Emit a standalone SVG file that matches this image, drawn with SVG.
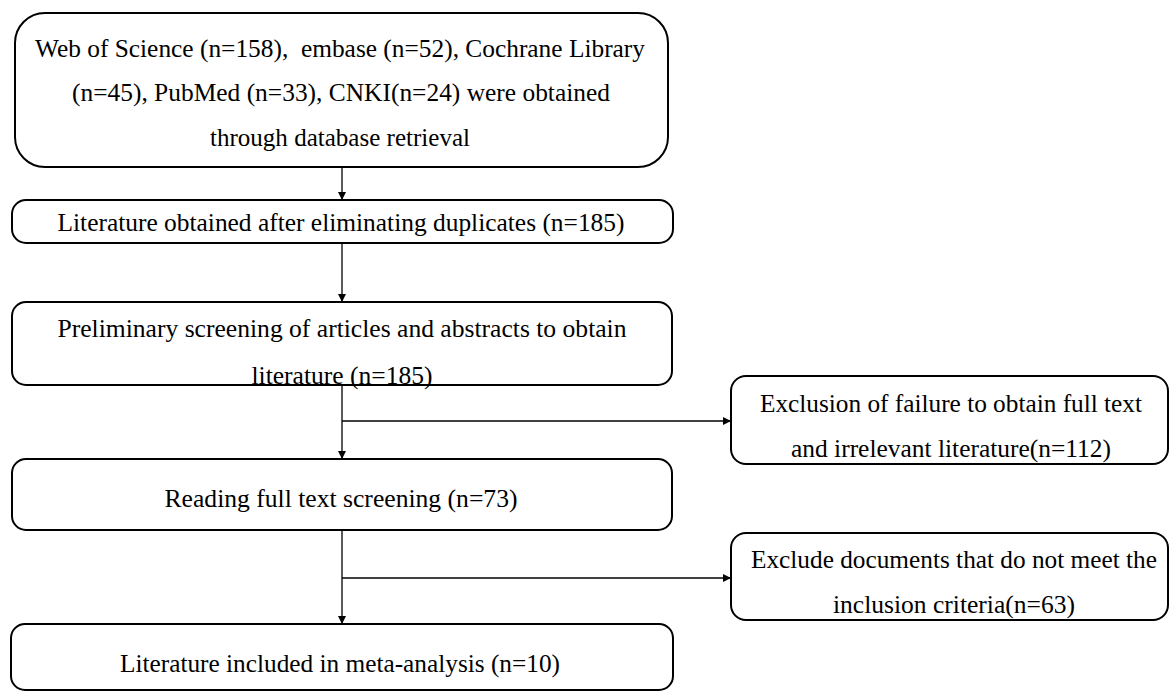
<svg xmlns="http://www.w3.org/2000/svg" width="1169" height="691" viewBox="0 0 1169 691">
<style>
.box{fill:#ffffff;stroke:#000000;stroke-width:2}
.t{font-family:"Liberation Serif","Times New Roman",serif;font-size:26px;fill:#000000;text-anchor:middle}
.ln{stroke:#000000;stroke-width:1.3;fill:none}
</style>
<defs>
<marker id="ah" viewBox="0 0 10 10" refX="10" refY="5" markerWidth="8" markerHeight="8" markerUnits="userSpaceOnUse" orient="auto">
<path d="M0,0 L10,5 L0,10 Z" fill="#000000"/>
</marker>
</defs>
<rect width="1169" height="691" fill="#ffffff"/>
<g id="connectors">
<line class="ln" x1="342" y1="167" x2="342" y2="200" marker-end="url(#ah)"/>
<line class="ln" x1="342" y1="243" x2="342" y2="302" marker-end="url(#ah)"/>
<line class="ln" x1="342" y1="385" x2="342" y2="459" marker-end="url(#ah)"/>
<line class="ln" x1="342" y1="421" x2="731" y2="421" marker-end="url(#ah)"/>
<line class="ln" x1="342" y1="530" x2="342" y2="624" marker-end="url(#ah)"/>
<line class="ln" x1="342" y1="578" x2="731" y2="578" marker-end="url(#ah)"/>
</g>
<g id="n1">
<rect class="box" x="15" y="13" width="653" height="154" rx="30"/>
<text class="t" x="340" y="57" textLength="610" lengthAdjust="spacingAndGlyphs">Web of Science (n=158),&#160; embase (n=52), Cochrane Library</text>
<text class="t" x="341" y="101" textLength="538" lengthAdjust="spacingAndGlyphs">(n=45), PubMed (n=33), CNKI(n=24) were obtained</text>
<text class="t" x="340" y="146" textLength="260" lengthAdjust="spacingAndGlyphs">through database retrieval</text>
</g>
<g id="n2">
<rect class="box" x="12" y="200" width="661" height="43" rx="14"/>
<text class="t" x="341" y="231" textLength="567" lengthAdjust="spacingAndGlyphs">Literature obtained after eliminating duplicates (n=185)</text>
</g>
<g id="n3">
<rect class="box" x="12" y="302" width="660" height="83" rx="14"/>
<text class="t" x="342" y="337" textLength="569" lengthAdjust="spacingAndGlyphs">Preliminary screening of articles and abstracts to obtain</text>
<text class="t" x="342" y="384" textLength="181" lengthAdjust="spacingAndGlyphs">literature (n=185)</text>
</g>
<g id="n4">
<rect class="box" x="12" y="459" width="660" height="71" rx="14"/>
<text class="t" x="341" y="507" textLength="353" lengthAdjust="spacingAndGlyphs">Reading full text screening (n=73)</text>
</g>
<g id="n5">
<rect class="box" x="11" y="624" width="662" height="66" rx="14"/>
<text class="t" x="340" y="672" textLength="440" lengthAdjust="spacingAndGlyphs">Literature included in meta-analysis (n=10)</text>
</g>
<g id="r1">
<rect class="box" x="731" y="376" width="437" height="88" rx="15"/>
<text class="t" x="951" y="412" textLength="382" lengthAdjust="spacingAndGlyphs">Exclusion of failure to obtain full text</text>
<text class="t" x="951" y="457" textLength="320" lengthAdjust="spacingAndGlyphs">and irrelevant literature(n=112)</text>
</g>
<g id="r2">
<rect class="box" x="731" y="533" width="437" height="87" rx="15"/>
<text class="t" x="954" y="568" textLength="406" lengthAdjust="spacingAndGlyphs">Exclude documents that do not meet the</text>
<text class="t" x="954" y="613" textLength="242" lengthAdjust="spacingAndGlyphs">inclusion criteria(n=63)</text>
</g>
</svg>
